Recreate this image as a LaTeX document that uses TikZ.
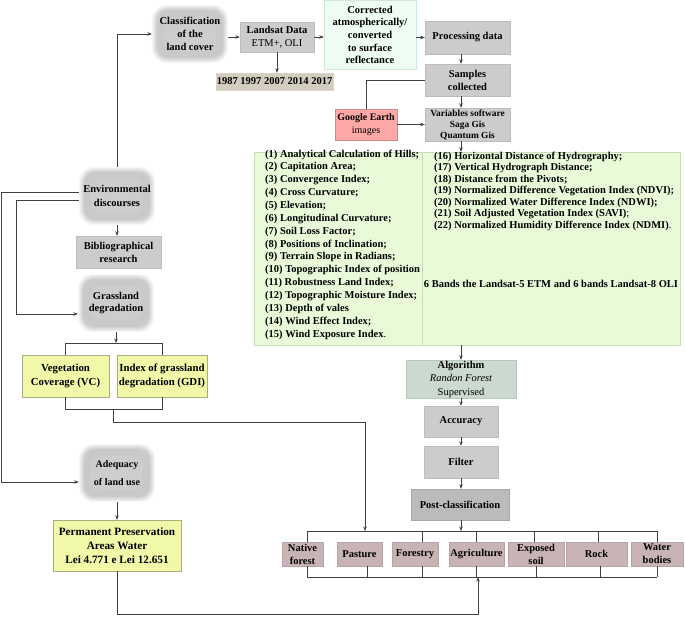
\documentclass[tikz,border=0pt]{standalone}
\usepackage{fontspec}
\setmainfont{Liberation Serif}
\usetikzlibrary{arrows.meta,calc}
\pgfdeclarelayer{background}
\pgfsetlayers{background,main}
\definecolor{linec}{HTML}{404040}
\definecolor{boxgray}{HTML}{CCCCCC}
\definecolor{boxgrayd}{HTML}{BDBDBD}
\definecolor{postc}{HTML}{BBBBBB}
\definecolor{yearc}{HTML}{D2CDBE}
\definecolor{mintc}{HTML}{EFFCF4}
\definecolor{mintd}{HTML}{CFE6D8}
\definecolor{pinkc}{HTML}{FFA8A8}
\definecolor{pinkd}{HTML}{D08888}
\definecolor{greenc}{HTML}{E8FAD8}
\definecolor{greend}{HTML}{C8DCB8}
\definecolor{algoc}{HTML}{CBD9D0}
\definecolor{algod}{HTML}{B8C8BE}
\definecolor{yelc}{HTML}{F1F8A8}
\definecolor{yeld}{HTML}{A8AE80}
\definecolor{rosec}{HTML}{C8B4B4}
\definecolor{rosed}{HTML}{B8A4A4}
\newcommand\softblob[1]{%
  \begin{pgfonlayer}{background}
  \foreach \i in {0,...,7}{%
    \fill[black, opacity=0.027, rounded corners=15pt-\i*0.6pt]
      ($(#1.south west)+(\i*0.8,-\i*0.8)$) rectangle ($(#1.north east)+(-\i*0.8,\i*0.8)$);
  }
  \fill[white, opacity=0.08, rounded corners=10pt]
      ($(#1.south west)+(12,-12)$) rectangle ($(#1.north east)+(-12,12)$);
  \end{pgfonlayer}}
\begin{document}
\begin{tikzpicture}[x=1pt,y=-1pt,
  every node/.style={font=\bfseries\fontsize{10.5}{12.9}\selectfont},
  ln/.style={draw=linec, line width=0.7pt},
  arr/.style={ln, -{Stealth[length=4.5pt,width=3.5pt]}},
  box/.style={inner sep=0pt, align=center},
  graybox/.style={box, fill=boxgray, draw=boxgrayd},
  yelbox/.style={box, fill=yelc, draw=yeld, font=\bfseries\fontsize{10.8}{13.5}\selectfont},
  lubox/.style={box, fill=rosec, draw=rosed, minimum height=24pt, font=\bfseries\fontsize{10.5}{13}\selectfont},
  blob/.style={box, minimum width=76pt, minimum height=58pt}
]
\begin{pgfonlayer}{background}
\fill[white] (0,0) rectangle (685,617);
\end{pgfonlayer}
\useasboundingbox (0,0) rectangle (685,617);

% ---------- top row ----------
\node[blob] (cls) at (190,34) {Classification\\of the\\land cover};
\softblob{cls}
\node[graybox, minimum width=74pt, minimum height=30pt] (lds) at (277,37) {Landsat Data\\{\mdseries ETM+, OLI}};
\node[box, fill=yearc, draw=yearc!85!white, minimum width=117pt, minimum height=17pt] (yrs) at (274.5,81.5) {1987 1997 2007 2014 2017};
\node[box, fill=mintc, draw=mintd, minimum width=92pt, minimum height=69pt, font=\bfseries\fontsize{10.5}{12.7}\selectfont] (corr) at (370,35) {Corrected\\atmospherically/\\converted\\to surface\\reflectance};
\node[graybox, minimum width=85pt, minimum height=33pt] (proc) at (467.5,37.5) {Processing data};
\node[graybox, minimum width=85pt, minimum height=32pt] (samp) at (467.5,80) {Samples\\collected};
\node[box, fill=pinkc, draw=pinkd, minimum width=62pt, minimum height=31pt, font=\bfseries\fontsize{10}{12.5}\selectfont] (ge) at (366,124.5) {Google Earth\\{\mdseries images}};
\node[graybox, minimum width=85pt, minimum height=33pt, font=\bfseries\fontsize{9.4}{11}\selectfont] (vars) at (467.5,124.5) {Variables software\\Saga Gis\\Quantum Gis};

% ---------- variables box ----------
\node[draw=greend, fill=greenc, minimum width=426pt, minimum height=193pt, inner sep=0pt] (grn) at (467,248.5) {};
\coordinate (dv) at (422,0);
\draw[draw=greend] (grn.north -| dv) -- (grn.south -| dv);
\node[anchor=north west, align=left, inner sep=0pt, font=\bfseries\fontsize{10.5}{12.86}\selectfont] (lst1) at (265,149.5) {(1) Analytical Calculation of Hills;\\
(2) Capitation Area;\\
(3) Convergence Index;\\
(4) Cross Curvature;\\
(5) Elevation;\\
(6) Longitudinal Curvature;\\
(7) Soil Loss Factor;\\
(8) Positions of Inclination;\\
(9) Terrain Slope in Radians;\\
(10) Topographic Index of position\\
(11) Robustness Land Index;\\
(12) Topographic Moisture Index;\\
(13) Depth of vales\\
(14) Wind Effect Index;\\
(15) Wind Exposure Index{\mdseries.}};
\node[anchor=north west, align=left, inner sep=0pt, font=\bfseries\fontsize{10.5}{11.5}\selectfont] (lst2) at (434,151.5) {(16) Horizontal Distance of Hydrography;\\
(17) Vertical Hydrograph Distance;\\
(18) Distance from the Pivots;\\
(19) Normalized Difference Vegetation Index (NDVI);\\
(20) Normalized Water Difference Index (NDWI);\\
(21) Soil Adjusted Vegetation Index (SAVI){\mdseries;}\\
(22) Normalized Humidity Difference Index (NDMI){\mdseries.}};
\node[inner sep=0pt] (six) at (551,284) {6 Bands the Landsat-5 ETM and 6 bands Landsat-8 OLI};

% ---------- classification chain ----------
\node[box, fill=algoc, draw=algod, minimum width=110pt, minimum height=38pt, font=\bfseries\fontsize{10.5}{13.5}\selectfont] (alg) at (461,379) {Algorithm\\{\mdseries\itshape Randon Forest}\\{\mdseries Supervised}};
\node[graybox, minimum width=74pt, minimum height=31pt] (acc) at (461,421.5) {Accuracy};
\node[graybox, minimum width=74pt, minimum height=32pt] (filt) at (461,462) {Filter};
\node[box, fill=postc, draw=postc!90!black, minimum width=98pt, minimum height=31pt] (post) at (460,504.5) {Post-classification};

% ---------- land use classes ----------
\node[lubox, minimum width=41pt] (nat) at (302.5,554) {Native\\forest};
\node[lubox, minimum width=45pt] (past) at (359.5,554) {Pasture};
\node[lubox, minimum width=46pt] (fore) at (415,554) {Forestry};
\node[lubox, minimum width=55pt] (agri) at (476.5,554) {Agriculture};
\node[lubox, minimum width=56pt] (exps) at (536,554) {Exposed\\soil};
\node[lubox, minimum width=61pt] (rock) at (596.5,554) {Rock};
\node[lubox, minimum width=52pt] (water) at (657,554) {Water\\bodies};

% ---------- left column ----------
\node[blob, font=\bfseries\fontsize{10.5}{13.3}\selectfont] (env) at (117,196) {Environmental\\discourses};
\softblob{env}
\node[graybox, minimum width=85pt, minimum height=32pt] (bib) at (118.5,252) {Bibliographical\\research};
\node[blob] (grass) at (116,303) {Grassland\\degradation};
\softblob{grass}
\node[yelbox, minimum width=87pt, minimum height=42pt] (vc) at (65.5,376) {Vegetation\\Coverage (VC)};
\node[yelbox, minimum width=90pt, minimum height=42pt] (gdi) at (162,376) {Index of grassland\\degradation (GDI)};
\node[blob, font=\bfseries\fontsize{10}{17.7}\selectfont] (adeq) at (117,473) {Adequacy\\of land use};
\softblob{adeq}
\node[yelbox, minimum width=128pt, minimum height=51pt, font=\bfseries\fontsize{11.2}{14}\selectfont] (perm) at (117,545.5) {Permanent Preservation\\Areas Water\\Lei 4.771 e Lei 12.651};

% ---------- helper coordinates ----------
\coordinate (ax) at (461,0);
\coordinate (tb) at (0,531);
\coordinate (bb) at (0,577);
\coordinate (gb) at (0,343);
\coordinate (vb) at (0,409);
\coordinate (vcj) at (113,409);
\coordinate (pj) at (365,531);
\coordinate (bj) at (478,577);

% ---------- connectors: top ----------
\draw[arr] (cls.east |- lds) -- (lds.west);
\draw[arr] (lds.south) -- (lds.south |- yrs.north);
\draw[arr] (lds.east) -- (lds.east -| corr.west);
\draw[arr] (corr.east |- proc) -- (proc.west);
\draw[arr] (proc.south -| ax) -- (samp.north -| ax);
\draw[ln] (ge.north) |- (samp.west);
\draw[arr] (ge.east) -- (ge.east -| vars.west);
\draw[arr] (samp.south -| ax) -- (vars.north -| ax);
\draw[arr] (vars.south -| ax) -- (grn.north -| ax);
\draw[arr] (grn.south -| ax) -- (alg.north -| ax);
\draw[arr] (alg.south -| ax) -- (acc.north -| ax);
\draw[arr] (acc.south -| ax) -- (filt.north -| ax);
\draw[arr] (filt.south -| ax) -- (post.north -| ax);
\draw[arr] (post.south -| ax) -- (ax |- tb);

% ---------- buses ----------
\draw[ln] ([xshift=4.5pt]nat.north |- tb) -- (water.north |- tb);
\draw[ln] ([xshift=4.5pt]nat.north) -- ([xshift=4.5pt]nat.north |- tb);
\draw[ln] ([xshift=7pt]fore.north) -- ([xshift=7pt]fore.north |- tb);
\draw[ln] (agri.north) -- (agri.north |- tb);
\draw[ln] ([xshift=-2pt]exps.north) -- ([xshift=-2pt]exps.north |- tb);
\draw[ln] ([xshift=1.5pt]rock.north) -- ([xshift=1.5pt]rock.north |- tb);
\draw[ln] (water.north) -- (water.north |- tb);
\draw[ln] ([xshift=4.5pt]nat.south |- bb) -- (water.south |- bb);
\draw[ln] ([xshift=4.5pt]nat.south) -- ([xshift=4.5pt]nat.south |- bb);
\draw[ln] ([xshift=7.5pt]past.south) -- ([xshift=7.5pt]past.south |- bb);
\draw[ln] ([xshift=7pt]fore.south) -- ([xshift=7pt]fore.south |- bb);
\draw[ln] (agri.south) -- (agri.south |- bb);
\draw[ln] (exps.south) -- (exps.south |- bb);
\draw[ln] ([xshift=3.5pt]rock.south) -- ([xshift=3.5pt]rock.south |- bb);
\draw[ln] (water.south) -- (water.south |- bb);

% ---------- connectors: left ----------
\draw[arr] (env.north) |- (cls.west);
\draw[arr] ([yshift=4pt]env.west) -- ++(-77,0) |- ([yshift=-9pt]adeq.west);
\draw[arr] ([yshift=-4pt]env.west) -- ++(-62,0) |- ([yshift=-11pt]grass.west);
\draw[arr] (env.south) -- (env.south |- bib.north);
\draw[arr] (grass.south) -- (grass.south |- gb);
\draw[ln] (vc.north) |- (gdi.north |- gb) -- (gdi.north);
\draw[ln] (vc.south) |- (gdi.south |- vb) -- (gdi.south);
\draw[arr] (vcj) -- ++(0,13) -| (pj);
\draw[arr] (adeq.south) -- (perm.north);
\draw[arr] (perm.south) -- ++(0,43) -| (bj);
\end{tikzpicture}
\end{document}
